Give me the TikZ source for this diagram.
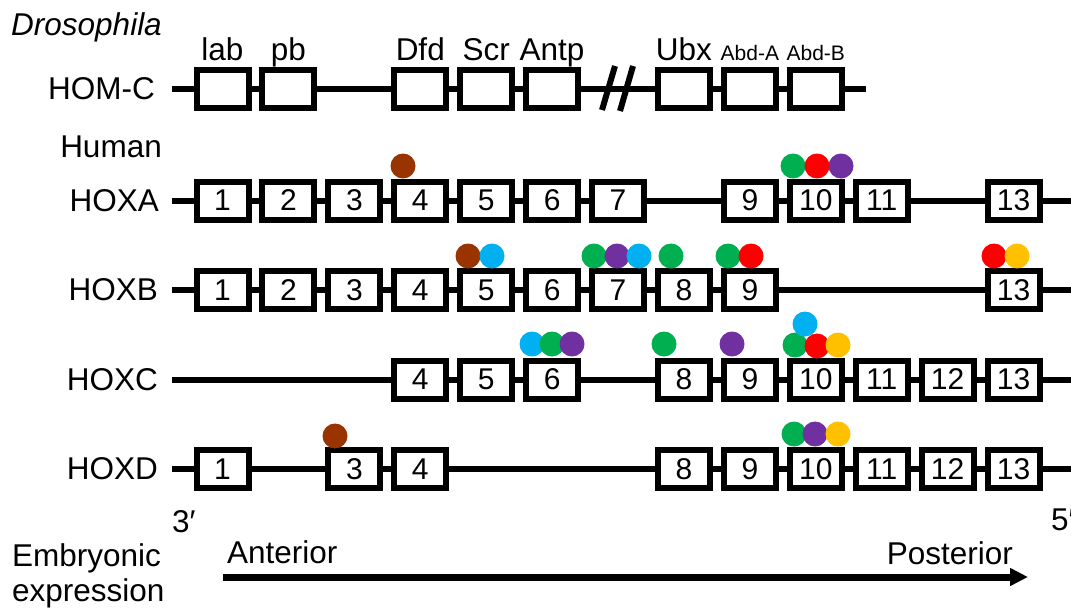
\documentclass[tikz,border=0pt]{standalone}
\usepackage{fontspec}
\setmainfont{Liberation Sans}
\usetikzlibrary{arrows.meta}
\definecolor{hxbrown}{RGB}{153,51,0}
\definecolor{hxgreen}{RGB}{0,176,80}
\definecolor{hxred}{RGB}{255,0,0}
\definecolor{hxpurple}{RGB}{112,48,160}
\definecolor{hxblue}{RGB}{0,176,240}
\definecolor{hxyellow}{RGB}{255,192,0}
\newcommand{\fsz}[1]{\fontsize{#1}{#1}\selectfont}

\begin{document}
\begin{tikzpicture}[x=1pt, y=-1pt,
  gene/.style={rectangle, draw, line width=6pt, fill=white, minimum width=52pt, minimum height=38pt, inner sep=0pt, font=\fsz{30}},
  lbl/.style={inner sep=0pt, font=\fsz{31.5}},
  spot/.style={circle, minimum size=25pt, inner sep=0pt},
  chrom/.style={line width=6pt},
  arr/.style={-{Triangle[length=18pt, width=17pt]}, line width=7pt}
]
\useasboundingbox (0,0) rectangle (1071,610);

% backbones
\coordinate (homL) at (172,89);    \coordinate (homR) at (866,89);
\coordinate (aL) at (172,200.5);   \coordinate (aR) at (1071,200.5);
\coordinate (bL) at (172,290);     \coordinate (bR) at (1071,290);
\coordinate (cL) at (172,379.5);   \coordinate (cR) at (1071,379.5);
\coordinate (dL) at (172,469);     \coordinate (dR) at (1071,469);
\draw[chrom] (homL) -- (homR);
\draw[chrom] (aL) -- (aR);
\draw[chrom] (bL) -- (bR);
\draw[chrom] (cL) -- (cR);
\draw[chrom] (dL) -- (dR);
\draw[line width=6pt] (602,110) -- (615,66);
\draw[line width=6pt] (620,111) -- (633,66);

% row labels
\node[lbl, anchor=base east, font=\fsz{31.5}\itshape] (dros) at (162,36) {Drosophila};
\node[lbl, anchor=east] (homc) at (155,89) {HOM-C};
\node[lbl, anchor=base east] (human) at (162,157) {Human};
\node[lbl, anchor=east] (hoxa) at (159,200.5) {HOXA};
\node[lbl, anchor=east] (hoxb) at (158,290) {HOXB};
\node[lbl, anchor=east] (hoxc) at (158,379.5) {HOXC};
\node[lbl, anchor=east] (hoxd) at (158,469) {HOXD};

% Drosophila genes
\foreach \i/\g in {1/lab,2/pb,4/Dfd,5/Scr,6/Antp,8/Ubx,9/AbdA,10/AbdB}
  \node[gene] (hom\g) at ({222.5+65.92*(\i-1)},89) {};
\foreach \i/\g in {1/lab,2/pb,4/Dfd,5/Scr,6/Antp,8/Ubx}
  \node[lbl, anchor=base] (lbl\g) at ({222.5+65.92*(\i-1)},60) {\g};
\node[lbl, anchor=base, font=\fsz{21}] (lblAbdA) at ({222.5+65.92*8},60) {Abd-A};
\node[lbl, anchor=base, font=\fsz{21}] (lblAbdB) at ({222.5+65.92*9},60) {Abd-B};

% human clusters
\foreach \i in {1,...,7,9,10,11,13}
  \node[gene] (A\i) at ({222.5+65.92*(\i-1)},200.5) {\i};
\foreach \i in {1,...,9,13}
  \node[gene] (B\i) at ({222.5+65.92*(\i-1)},290) {\i};
\foreach \i in {4,5,6,8,9,10,11,12,13}
  \node[gene] (C\i) at ({222.5+65.92*(\i-1)},379.5) {\i};
\foreach \i in {1,3,4,8,9,10,11,12,13}
  \node[gene] (D\i) at ({222.5+65.92*(\i-1)},469) {\i};

% expression spots
\foreach \c/\x/\y [count=\k] in {hxbrown/403/166, hxgreen/793/166, hxred/817/166, hxpurple/841/166,
  hxbrown/468/256, hxblue/492/256, hxgreen/594/256, hxpurple/617/256, hxblue/639/256,
  hxgreen/671/256, hxgreen/728/256, hxred/751/256, hxred/994/256, hxyellow/1017/256,
  hxblue/532/344, hxgreen/552/344, hxpurple/572/344, hxgreen/664/344, hxpurple/732/344,
  hxgreen/795/345, hxblue/805/324, hxred/817/346, hxyellow/838/345,
  hxbrown/335/436, hxgreen/794/434, hxpurple/815/434, hxyellow/838/434}
  \node[spot, fill=\c] (spot\k) at (\x,\y) {};

% ends and axis
\node[lbl, anchor=base west] (end3) at (172,532) {3′};
\node[lbl, anchor=base west] (end5) at (1051,530) {5′};
\node[lbl, anchor=base west] (emb) at (12,566) {Embryonic};
\node[lbl, anchor=base west] (expr) at (12,601) {expression};
\node[lbl, anchor=base west] (ant) at (227,563) {Anterior};
\node[lbl, anchor=base east] (post) at (1013,564) {Posterior};
\coordinate (axS) at (223,577);
\coordinate (axE) at (1028,577);
\draw[arr] (axS) -- (axE);
\end{tikzpicture}
\end{document}
